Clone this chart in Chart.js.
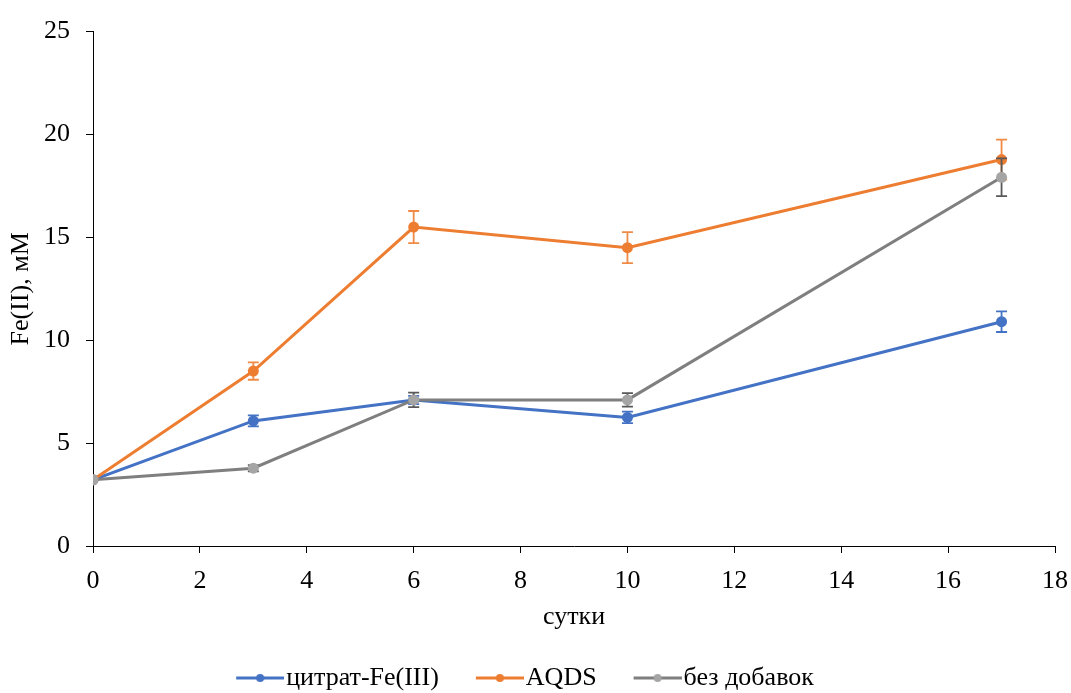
<!DOCTYPE html>
<html>
<head>
<meta charset="utf-8">
<script src="https://cdn.jsdelivr.net/npm/chart.js@4.4.1/dist/chart.umd.min.js"></script>
<style>
  html, body { margin: 0; padding: 0; background: #fff; }
  #wrap { width: 1071px; height: 693px; }
</style>
</head>
<body>
<div id="wrap"><canvas id="fe"></canvas></div>
<script>
// ---- data ----
const days = [0, 3, 6, 10, 17];
const seriesNames = ["цитрат-Fe(III)", "AQDS", "без добавок"];

const citrate    = [3.22, 6.08, 7.1, 6.25, 10.9];
const citrateErr = [0, 0.27, 0.2, 0.28, 0.5];

const aqds    = [3.22, 8.5, 15.5, 14.5, 18.78];
const aqdsErr = [0, 0.42, 0.78, 0.75, 0.97];

const plain    = [3.22, 3.78, 7.1, 7.1, 17.92];
const plainErr = [0, 0.15, 0.35, 0.33, 0.92];

const yTicks = [0, 5, 10, 15, 20, 25];
const xTicks = [0, 2, 4, 6, 8, 10, 12, 14, 16, 18];

const FONT = "'Liberation Serif', 'Times New Roman', serif";

function pts(vals) {
  return days.map((d, i) => ({ x: d, y: vals[i] }));
}

// legend sample: blank on the left (item spacing), then line with dot
function legendIcon(lineColor, dotColor) {
  const c = document.createElement("canvas");
  c.width = 92; c.height = 12;
  const g = c.getContext("2d");
  g.strokeStyle = lineColor;
  g.lineWidth = 3;
  g.beginPath(); g.moveTo(44, 6); g.lineTo(92, 6); g.stroke();
  g.fillStyle = dotColor;
  g.beginPath(); g.arc(68, 6, 4, 0, Math.PI * 2); g.fill();
  return c;
}

const colors = [
  { line: "#4472C4", dot: "#4472C4", err: "#4472C4" },
  { line: "#ED7D31", dot: "#ED7D31", err: "#F08A45" },
  { line: "#7F7F7F", dot: "#A5A5A5", err: "#595959" }
];
const errs = [citrateErr, aqdsErr, plainErr];

// error bars, drawn just before each dataset
const errorBars = {
  id: "errorBars",
  beforeDatasetDraw(chart, args) {
    const i = args.index;
    const e = errs[i];
    if (!e) return;
    const xs = chart.scales.x, ys = chart.scales.y;
    const ctx = chart.ctx;
    const vals = chart.data.datasets[i].data;
    ctx.save();
    ctx.strokeStyle = colors[i].err;
    ctx.lineWidth = 1.8;
    vals.forEach((p, k) => {
      if (!e[k]) return;
      const px = xs.getPixelForValue(p.x);
      const top = ys.getPixelForValue(p.y + e[k]);
      const bot = ys.getPixelForValue(p.y - e[k]);
      ctx.beginPath();
      ctx.moveTo(px, top); ctx.lineTo(px, bot);
      ctx.moveTo(px - 5.5, top); ctx.lineTo(px + 5.5, top);
      ctx.moveTo(px - 5.5, bot); ctx.lineTo(px + 5.5, bot);
      ctx.stroke();
    });
    ctx.restore();
  }
};

// nudge the legend row left (the icon blank sits on its left side)
const legendShift = {
  id: "legendShift",
  afterLayout(chart) {
    if (chart.legend) chart.legend.left -= 38;
  }
};

const datasets = [citrate, aqds, plain].map((vals, i) => ({
  label: seriesNames[i],
  data: pts(vals),
  borderColor: colors[i].line,
  backgroundColor: colors[i].dot,
  pointBackgroundColor: colors[i].dot,
  pointBorderColor: colors[i].dot,
  borderWidth: 3,
  pointRadius: 5.5,
  pointBorderWidth: 0,
  pointHoverRadius: 5.5,
  tension: 0,
  fill: false,
  order: 2 - i
}));

const icons = colors.map(c => legendIcon(c.line, c.dot));

new Chart(document.getElementById("fe"), {
  type: "line",
  data: { datasets },
  options: {
    responsive: true,
    maintainAspectRatio: false,
    animation: false,
    layout: { padding: { top: 29, right: 16, left: 0, bottom: -8 } },
    plugins: {
      tooltip: { enabled: false },
      legend: {
        position: "bottom",
        labels: {
          usePointStyle: true,
          pointStyleWidth: 70,
          font: { family: FONT, size: 26 },
          color: "#000",
          padding: 4,
          generateLabels: chart => chart.data.datasets.map((ds, i) => ({
            text: ds.label,
            pointStyle: icons[i],
            fillStyle: ds.borderColor,
            strokeStyle: ds.borderColor,
            lineWidth: 0,
            fontColor: "#000",
            datasetIndex: i,
            hidden: false
          }))
        }
      }
    },
    scales: {
      x: {
        type: "linear",
        min: 0,
        max: 18,
        afterBuildTicks: s => { s.ticks = xTicks.map(v => ({ value: v })); },
        afterFit: s => { s.height = 115; s.paddingLeft = 0; s.paddingRight = 0; },
        grid: { drawOnChartArea: false, drawTicks: true, tickLength: 7, color: "#000" },
        border: { color: "#000", width: 1 },
        ticks: { color: "#000", font: { family: FONT, size: 26 }, padding: 13, maxRotation: 0 },
        title: { display: true, text: "сутки", color: "#000", font: { family: FONT, size: 26 }, padding: { top: 0, bottom: 28 } }
      },
      y: {
        min: 0,
        max: 25,
        afterBuildTicks: s => { s.ticks = yTicks.map(v => ({ value: v })); },
        afterFit: s => { s.width = 93; },
        grid: { drawOnChartArea: false, drawTicks: true, tickLength: 7, color: "#000" },
        border: { color: "#000", width: 1 },
        ticks: { color: "#000", font: { family: FONT, size: 26 }, padding: 16 },
        title: { display: true, text: "Fe(II), мМ", color: "#000", font: { family: FONT, size: 26 }, padding: { top: 6, bottom: 0 } }
      }
    }
  },
  plugins: [errorBars, legendShift]
});
</script>
</body>
</html>
